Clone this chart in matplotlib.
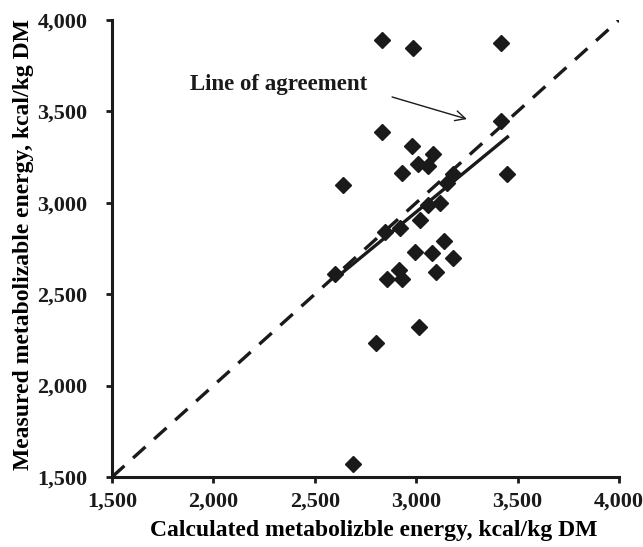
import numpy as np
import matplotlib
matplotlib.use("Agg")
import matplotlib.pyplot as plt

# calculated vs measured ME, kcal/kg DM
calc_me = [2830, 2985, 3420, 2830, 2980, 3085, 3010, 3060, 2930, 2640,
           3180, 3150, 3420, 3450, 3115, 3060, 3020, 2920, 2845, 2600,
           2995, 3080, 3135, 3180, 3100, 2855, 2915, 2930, 3015, 2800, 2690]
meas_me = [3890, 3845, 3875, 3385, 3310, 3265, 3210, 3200, 3165, 3100,
           3160, 3110, 3445, 3160, 3000, 2990, 2905, 2860, 2840, 2610,
           2730, 2725, 2790, 2700, 2620, 2585, 2630, 2585, 2320, 2235, 1570]

# fitted regression line (end points)
fit_x = [2600, 3450]
fit_y = [2585, 3360]

# line of agreement
agree = [1500, 4000]
ticks = [1500, 2000, 2500, 3000, 3500, 4000]
tick_labels = ["1,500", "2,000", "2,500", "3,000", "3,500", "4,000"]

plt.rcParams["font.family"] = ["Liberation Serif", "DejaVu Serif"]
plt.rcParams["font.weight"] = "bold"

fig = plt.figure(figsize=(6.43, 5.47), dpi=100, facecolor="white")
ax = fig.add_axes([0.1742, 0.128, 0.7885, 0.8354])

ax.plot(agree, agree, color="#1a1a1a", lw=2.4, ls=(0, (5, 3.5)), zorder=2)
ax.plot(fit_x, fit_y, color="#1a1a1a", lw=2.4, ls="-", zorder=2)
ax.plot(calc_me, meas_me, ls="none", marker="D", ms=8.5, color="#1a1a1a", zorder=3)

ax.text(1885, 3645, "Line of agreement", fontsize=16.5, fontweight="bold",
        ha="left", va="center", color="#1a1a1a")
ax.annotate("", xy=(3250, 3458), xytext=(2881, 3579),
            arrowprops=dict(arrowstyle="->", lw=1, color="#1a1a1a",
                            mutation_scale=18, shrinkA=0, shrinkB=0))

ax.set_xlim(1500, 4000)
ax.set_ylim(1500, 4000)
ax.set_xticks(ticks)
ax.set_xticklabels(tick_labels)
ax.set_yticks(ticks)
ax.set_yticklabels(tick_labels)

for s in ["top", "right"]:
    ax.spines[s].set_visible(False)
for s in ["left", "bottom"]:
    ax.spines[s].set_linewidth(2.2)
    ax.spines[s].set_color("#1a1a1a")
ax.tick_params(direction="out", length=4.5, width=2, labelsize=16, colors="#1a1a1a")
ax.tick_params(axis="y", pad=13)
ax.tick_params(axis="x", pad=6)

ax.set_xlabel("Calculated metabolizble energy, kcal/kg DM", fontsize=17,
              fontweight="bold", labelpad=6)
ax.xaxis.label.set_x(0.516)
ax.set_ylabel("Measured metabolizable energy, kcal/kg DM", fontsize=17,
              fontweight="bold")
ax.yaxis.set_label_coords(-0.154, 0.508)

fig.savefig("out.png", dpi=100, facecolor="white")
